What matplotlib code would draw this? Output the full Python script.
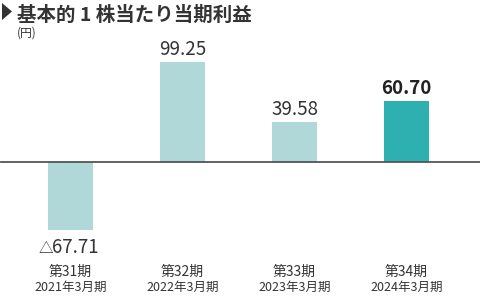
import matplotlib
matplotlib.use("Agg")
import matplotlib.pyplot as plt
from matplotlib.patches import Polygon

periods = ["第31期", "第32期", "第33期", "第34期"]
fiscal = ["2021年3月期", "2022年3月期", "2023年3月期", "2024年3月期"]
values = [-67.71, 99.25, 39.58, 60.70]
labels = ["△67.71", "99.25", "39.58", "60.70"]

plt.rcParams['font.family'] = ['Noto Sans CJK JP', 'DejaVu Sans']

W, H = 480, 296
fig = plt.figure(figsize=(W / 100, H / 100), dpi=100)
ax = fig.add_axes([0, 0, 1, 1])
ax.set_axis_off()

ppu = 1.005
base = 162
ax.set_ylim(-(H - base) / ppu, base / ppu)
sp = 112.0
c0 = 70.5
ax.set_xlim(-c0 / sp, (W - c0) / sp)

light = "#b0d8d9"
dark = "#2eb0b0"
colors = [light, light, light, dark]
xs = list(range(len(values)))
ax.bar(xs, values, width=45 / sp, color=colors, edgecolor="none", zorder=2)
ax.axhline(0, xmin=1 / W, xmax=1, color="#555555", linewidth=1.3, zorder=3)

txt = "#333333"
for x, v, lab in zip(xs, values, labels):
    bold = (x == 3)
    if v >= 0:
        ax.annotate(lab, (x, v), xytext=(0, 7), textcoords="offset pixels",
                    ha="center", va="baseline", fontsize=13.5,
                    color="#222222" if bold else txt,
                    fontweight="bold" if bold else "normal")
    else:
        mark, num = (lab[0], lab[1:]) if lab.startswith("△") else ("", lab)
        ax.annotate(num, (x, v), xytext=(5, -23), textcoords="offset pixels",
                    ha="center", va="baseline", fontsize=13.5, color=txt)
        if mark:
            ax.annotate(mark, (x, v), xytext=(-17, -23), textcoords="offset pixels",
                        ha="right", va="baseline", fontsize=10.5, color=txt)

for x, p, f in zip(xs, periods, fiscal):
    ax.text(x, -(275.5 - base) / ppu, p, ha="center", va="baseline", fontsize=10, color=txt)
    ax.text(x, -(290.5 - base) / ppu, f, ha="center", va="baseline", fontsize=9, color=txt)

tri = Polygon([[2 / W, 1 - 3 / H], [2 / W, 1 - 20 / H], [12 / W, 1 - 11.5 / H]],
              closed=True, transform=fig.transFigure, facecolor="#333333", edgecolor="none")
fig.patches.append(tri)
fig.text(17 / W, 1 - 21 / H, "基本的 1 株当たり当期利益", ha="left", va="baseline",
         fontsize=14, fontweight="bold", color=txt)
fig.text(17 / W, 1 - 37 / H, "(円)", ha="left", va="baseline", fontsize=8.5, color=txt)

fig.savefig("out.png", dpi=100)
